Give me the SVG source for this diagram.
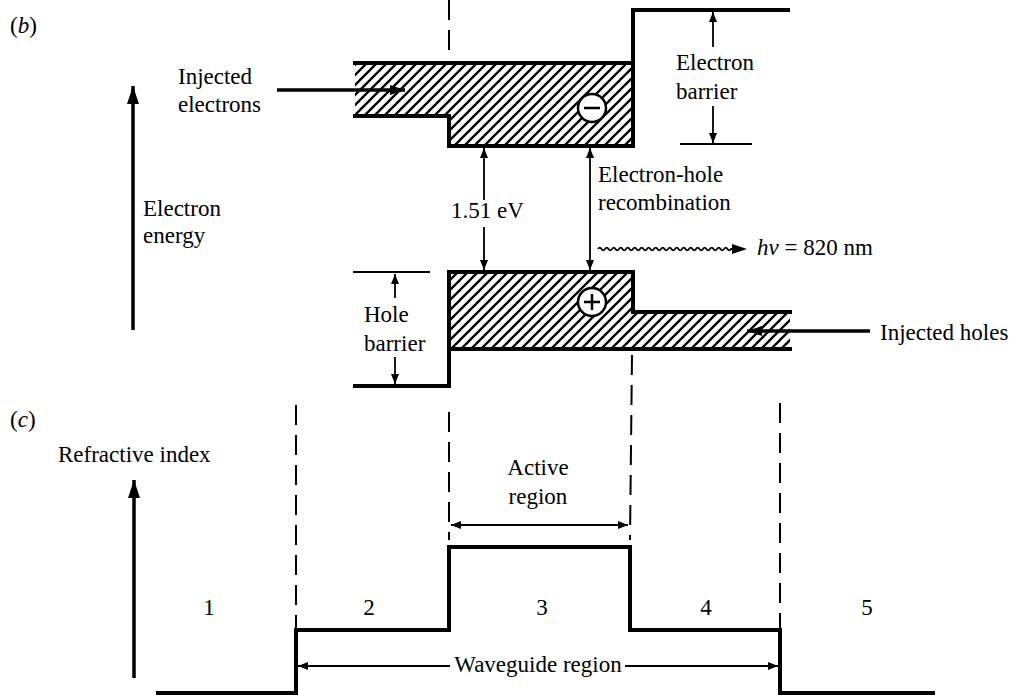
<svg xmlns="http://www.w3.org/2000/svg" width="1012" height="695" viewBox="0 0 1012 695">
<style>
text{font-family:"Liberation Serif","Times New Roman",serif;font-size:23px;fill:#000}
.it{font-style:italic}
.thick{fill:none;stroke:#000;stroke-width:4;stroke-linejoin:miter;stroke-linecap:square}
.thin{fill:none;stroke:#000;stroke-width:1.8}
.axis{fill:none;stroke:#000;stroke-width:3.5}
.dash{fill:none;stroke:#000;stroke-width:2;stroke-dasharray:20 10}
.hatch{fill:url(#hatch);stroke:none}
</style>
<defs>
<pattern id="hatch" patternUnits="userSpaceOnUse" width="10" height="10">
<path d="M-2,2 L2,-2 M0,10 L10,0 M8,12 L12,8" stroke="#000" stroke-width="2.3"/>
</pattern>
<marker id="ah" markerUnits="userSpaceOnUse" markerWidth="10" markerHeight="8" refX="10" refY="4" orient="auto-start-reverse">
<path d="M0,0 L10,4 L0,8 z" fill="#000"/>
</marker>
<marker id="big" markerUnits="userSpaceOnUse" markerWidth="18" markerHeight="12" refX="18" refY="6" orient="auto-start-reverse">
<path d="M0,0 L18,6 L0,12 z" fill="#000"/>
</marker>
<marker id="mid" markerUnits="userSpaceOnUse" markerWidth="15" markerHeight="10" refX="15" refY="5" orient="auto-start-reverse">
<path d="M0,0 L15,5 L0,10 z" fill="#000"/>
</marker>
</defs>

<!-- (b) energy band diagram -->
<g id="panel-b-label"><text x="10" y="33"><tspan>(</tspan><tspan class="it">b</tspan><tspan>)</tspan></text></g>

<g id="conduction-band">
<path class="hatch" d="M355,63 H633 V146 H449 V116 H355 Z"/>
<path class="thick" d="M355,63 H633"/>
<path class="thick" d="M355,116 H449 V146 H633 V10 H788"/>
</g>
<g id="electron-charge">
<circle cx="592" cy="108" r="14" fill="#fff" stroke="#000" stroke-width="2.5"/>
<path d="M584,108 H600" stroke="#000" stroke-width="2.5"/>
</g>

<g id="valence-band">
<path class="hatch" d="M449,272 H633 V312 H790 V349 H449 Z"/>
<path class="thick" d="M355,386 H449 V272 H633 V312 H790"/>
<path class="thick" d="M449,349 H790"/>
</g>
<g id="hole-charge">
<circle cx="592" cy="302" r="14" fill="#fff" stroke="#000" stroke-width="2.5"/>
<path d="M584,302 H600 M592,294 V310" stroke="#000" stroke-width="2.5"/>
</g>

<g id="energy-axis">
<line class="axis" x1="133" y1="330" x2="133" y2="86" marker-end="url(#big)"/>
<text x="143" y="216">Electron</text>
<text x="143" y="243">energy</text>
</g>

<g id="injected-electrons">
<text x="178" y="84">Injected</text>
<text x="178" y="112">electrons</text>
</g>

<g id="electron-barrier">
<line class="thin" x1="680" y1="144" x2="752" y2="144"/>
<text x="676" y="70">Electron</text>
<text x="676" y="99">barrier</text>
</g>

<g id="hole-barrier">
<line class="thin" x1="353" y1="272" x2="430" y2="272"/>
<text x="364" y="322">Hole</text>
<text x="364" y="351">barrier</text>
</g>

<g id="bandgap-label"><text x="451" y="218">1.51 eV</text></g>

<g id="recombination-label">
<text x="598" y="182">Electron-hole</text>
<text x="598" y="210">recombination</text>
</g>

<g id="photon">
<text x="757" y="255"><tspan class="it">hν</tspan> = 820 nm</text>
</g>

<g id="injected-holes"><text x="880" y="340">Injected holes</text></g>

<!-- (c) refractive index -->
<g id="panel-c-label"><text x="10" y="427"><tspan>(</tspan><tspan class="it">c</tspan><tspan>)</tspan></text></g>

<g id="index-axis">
<text x="58" y="462">Refractive index</text>
<line class="axis" x1="134" y1="678" x2="134" y2="480" marker-end="url(#big)"/>
</g>

<g id="index-profile">
<path class="thick" d="M158,693 H296 V630 H449 V547 H630 V630 H780 V693 H933"/>
</g>

<g id="region-numbers">
<text x="209" y="615" text-anchor="middle">1</text>
<text x="369" y="615" text-anchor="middle">2</text>
<text x="542" y="615" text-anchor="middle">3</text>
<text x="706" y="615" text-anchor="middle">4</text>
<text x="867" y="615" text-anchor="middle">5</text>
</g>

<g id="active-region">
<text x="538" y="475" text-anchor="middle">Active</text>
<text x="538" y="504" text-anchor="middle">region</text>
</g>

<g id="waveguide-region">
<text x="538" y="672" text-anchor="middle">Waveguide region</text>
</g>

<g id="connectors">
<line class="dash" x1="449" y1="0" x2="449" y2="52"/>
<line class="dash" x1="632" y1="355" x2="630" y2="540"/>
<line class="dash" x1="296" y1="405" x2="296" y2="628"/>
<line class="dash" x1="449" y1="412" x2="449" y2="540"/>
<line class="dash" x1="780" y1="403" x2="780" y2="628"/>

<line class="axis" x1="277" y1="90" x2="405" y2="90" stroke-width="3" marker-end="url(#mid)"/>
<line class="axis" x1="870" y1="331" x2="747" y2="331" stroke-width="3" marker-end="url(#mid)"/>

<line class="thin" x1="713" y1="47" x2="713" y2="12" marker-end="url(#ah)"/>
<line class="thin" x1="713" y1="106" x2="713" y2="143" marker-end="url(#ah)"/>

<line class="thin" x1="395" y1="298" x2="395" y2="274" marker-end="url(#ah)"/>
<line class="thin" x1="395" y1="357" x2="395" y2="384" marker-end="url(#ah)"/>

<line class="thin" x1="484" y1="200" x2="484" y2="148" marker-end="url(#ah)"/>
<line class="thin" x1="484" y1="227" x2="484" y2="270" marker-end="url(#ah)"/>

<line class="thin" x1="590" y1="148" x2="590" y2="270" marker-start="url(#ah)" marker-end="url(#ah)"/>

<path class="thin" stroke-width="1.6" d="M598,249 q1.75,-2.6 3.5,0 t3.5,0 t3.5,0 t3.5,0 t3.5,0 t3.5,0 t3.5,0 t3.5,0 t3.5,0 t3.5,0 t3.5,0 t3.5,0 t3.5,0 t3.5,0 t3.5,0 t3.5,0 t3.5,0 t3.5,0 t3.5,0 t3.5,0 t3.5,0 t3.5,0 t3.5,0 t3.5,0 t3.5,0 t3.5,0 t3.5,0 t3.5,0 t3.5,0 t3.5,0 t3.5,0 t3.5,0 t3.5,0 t3.5,0 t3.5,0 t3.5,0 t3.5,0 t3.5,0 L738,249"/>
<path d="M732,244 L747,249 L732,254 z" fill="#000"/>

<line class="thin" x1="451" y1="525" x2="628" y2="525" marker-start="url(#ah)" marker-end="url(#ah)"/>

<line class="thin" x1="450" y1="666" x2="298" y2="666" marker-end="url(#ah)"/>
<line class="thin" x1="625" y1="666" x2="778" y2="666" marker-end="url(#ah)"/>
</g>
</svg>
